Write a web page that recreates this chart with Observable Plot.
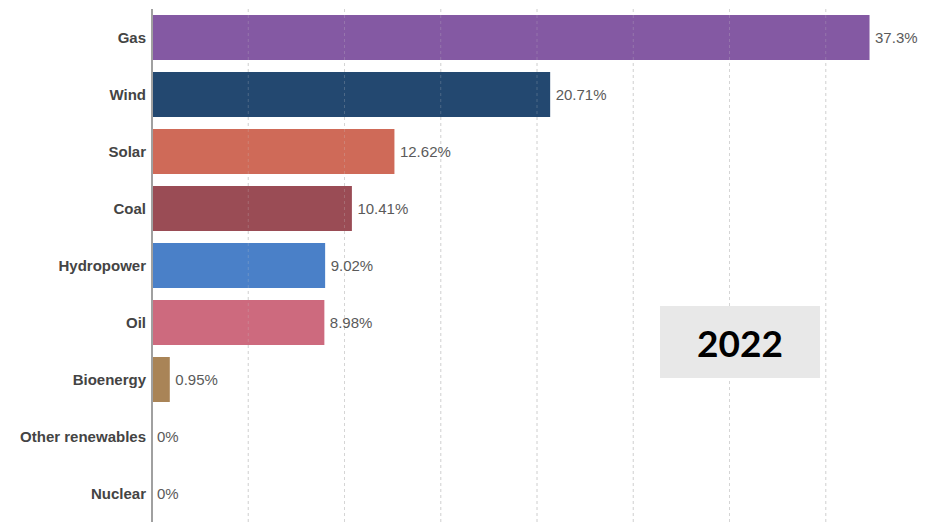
<!DOCTYPE html>
<html>
<head>
<meta charset="utf-8">
<script src="https://cdn.jsdelivr.net/npm/d3@7"></script>
<script src="https://cdn.jsdelivr.net/npm/@observablehq/plot@0.6"></script>
<style>
  html, body { margin: 0; padding: 0; background: #fff; }
  #wrap { position: relative; width: 938px; height: 522px; overflow: hidden; }
  #year {
    position: absolute; left: 660px; top: 306px; width: 160px; height: 72px;
    background: #e8e8e8; color: #000;
    font-family: Lato, "Open Sans", sans-serif; font-weight: 700; font-size: 37px;
    display: flex; align-items: center; justify-content: center;
  }
</style>
</head>
<body>
<div id="wrap"></div>
<script>
const categories = ["Gas", "Wind", "Solar", "Coal", "Hydropower", "Oil", "Bioenergy", "Other renewables", "Nuclear"];
const values = [37.3, 20.71, 12.62, 10.41, 9.02, 8.98, 0.95, 0, 0];
const palette = ["#8459a3", "#234870", "#cf6a58", "#9a4c55", "#4a80c8", "#cd6a7e", "#a98457", "#999999", "#999999"];
const gridTicks = [5, 10, 15, 20, 25, 30, 35];
const yearLabel = "2022";

const data = categories.map((c, i) => ({category: c, value: values[i]}));

const chart = Plot.plot({
  width: 938,
  height: 522,
  marginLeft: 151.5,
  marginRight: 16.5,
  marginTop: 9,
  marginBottom: 0,
  style: {fontFamily: "'Liberation Sans', Arial, Helvetica, sans-serif", background: "#fff"},
  x: {domain: [0, 40], axis: null},
  y: {domain: categories, paddingInner: 0.21, paddingOuter: 0.105, axis: null, label: null},
  color: {domain: categories, range: palette},
  marks: [
    Plot.ruleX(gridTicks, {stroke: "#d8d8d8", strokeDasharray: "3,3", strokeWidth: 1}),
    Plot.barX(data, {y: "category", x: "value", fill: "category"}),
    Plot.ruleX(gridTicks, {stroke: "#cccccc", strokeOpacity: 0.25, strokeDasharray: "3,3", strokeWidth: 1}),
    Plot.ruleX([0], {stroke: "#a0a0a0", strokeWidth: 2}),
    Plot.axisY({tickSize: 0, tickPadding: 6, fontSize: 15, fontWeight: "bold", fill: "#444", anchor: "left", label: null}),
    Plot.text(data, {y: "category", x: "value", text: d => `${d.value}%`, dx: 5, textAnchor: "start", fontSize: 15, fill: "#5a5a5a"})
  ]
});

const wrap = document.getElementById("wrap");
wrap.appendChild(chart);
const box = document.createElement("div");
box.id = "year";
box.textContent = yearLabel;
wrap.appendChild(box);
</script>
</body>
</html>
